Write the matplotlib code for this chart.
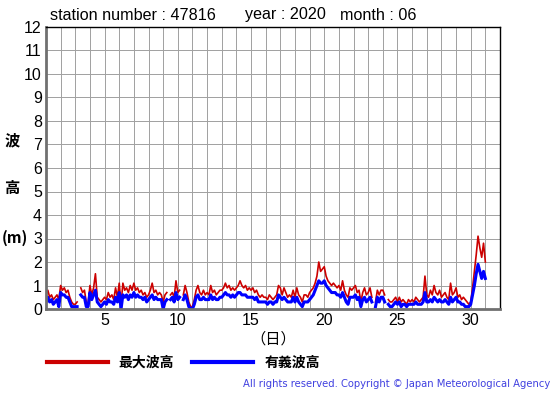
import numpy as np
import matplotlib
matplotlib.use('Agg')
import matplotlib.pyplot as plt
from matplotlib.lines import Line2D

plt.rcParams['font.family'] = ['Liberation Sans', 'Noto Sans CJK JP']
JP = ['Noto Sans CJK JP', 'DejaVu Sans']

nan = np.nan
# 3-hourly wave heights (m), June 2020, station 47816, one row per day
max_wave = [
    [0.6, 0.8, 0.5, 0.6, 0.4, 0.5, 0.6, 0.4],
    [1.0, 0.8, 0.9, 0.7, 0.8, 0.5, 0.3, 0.2],
    [0.2, 0.3, nan, 0.9, 0.7, 0.8, 0.3, 0.2],
    [1.0, 0.6, 0.9, 1.5, 0.5, 0.4, 0.3, 0.4],
    [0.5, 0.4, 0.7, 0.5, 0.6, 0.4, 0.9, 0.5],
    [1.1, 0.2, 1.1, 0.8, 0.9, 0.7, 1.0, 0.8],
    [1.1, 0.8, 0.9, 0.7, 0.8, 0.6, 0.7, 0.5],
    [0.6, 0.8, 1.1, 0.7, 0.8, 0.6, 0.7, 0.6],
    [0.3, 0.6, 0.7, nan, 0.6, 0.7, 0.5, 1.2],
    [0.7, 0.8, nan, 0.6, 1.0, 0.7, 0.3, 0.1],
    [0.1, 0.4, 0.8, 1.0, 0.7, 0.6, 0.8, 0.6],
    [0.7, 0.6, 1.0, 0.7, 0.8, 0.6, 0.7, 0.8],
    [0.8, 0.9, 1.1, 0.9, 1.0, 0.8, 0.9, 0.8],
    [0.9, 1.0, 1.2, 1.0, 0.9, 1.0, 0.8, 0.9],
    [0.8, 0.9, 0.7, 0.8, 0.6, 0.5, 0.6, 0.5],
    [0.5, 0.4, 0.6, 0.5, 0.4, 0.5, 0.6, 1.0],
    [0.9, 0.6, 0.9, 0.7, 0.5, 0.6, 0.5, 0.8],
    [0.5, 0.9, 0.6, 0.5, 0.3, 0.6, 0.6, 0.5],
    [0.7, 0.8, 0.9, 1.1, 1.4, 2.0, 1.6, 1.7],
    [1.8, 1.4, 1.2, 1.1, 1.0, 1.1, 1.0, 0.9],
    [1.0, 0.8, 1.2, 0.8, 0.6, 0.5, 0.9, 0.8],
    [0.9, 1.0, 0.7, 0.8, 0.3, 0.7, 0.9, 0.6],
    [0.7, 0.9, 0.5, nan, 0.3, 0.8, 0.6, 0.8],
    [0.8, 0.6, nan, 0.4, 0.3, 0.3, 0.4, 0.5],
    [0.3, 0.5, 0.3, 0.4, 0.3, 0.2, 0.4, 0.3],
    [0.4, 0.3, 0.5, 0.4, 0.3, 0.4, 0.5, 1.4],
    [0.6, 0.5, 0.8, 0.6, 1.0, 0.7, 0.6, 0.8],
    [0.5, 0.6, 0.7, 0.5, 0.4, 1.1, 0.6, 0.7],
    [0.9, 0.5, 0.6, 0.4, 0.5, 0.4, 0.3, 0.2],
    [0.3, 0.9, 1.6, 2.3, 3.1, 2.6, 2.2, 2.8],
]
sig_wave = [
    [0.3, 0.5, 0.3, 0.4, 0.2, 0.3, 0.4, 0.1],
    [0.7, 0.6, 0.6, 0.5, 0.5, 0.3, 0.1, 0.1],
    [0.1, 0.1, nan, 0.6, 0.5, 0.5, 0.1, 0.1],
    [0.7, 0.4, 0.6, 0.8, 0.3, 0.2, 0.1, 0.2],
    [0.3, 0.2, 0.4, 0.3, 0.3, 0.2, 0.5, 0.3],
    [0.7, 0.0, 0.6, 0.5, 0.6, 0.4, 0.6, 0.5],
    [0.7, 0.5, 0.6, 0.5, 0.5, 0.4, 0.5, 0.3],
    [0.4, 0.5, 0.6, 0.4, 0.5, 0.4, 0.4, 0.4],
    [0.0, 0.3, 0.4, nan, 0.4, 0.5, 0.3, 0.7],
    [0.4, 0.5, nan, 0.4, 0.6, 0.4, 0.1, 0.0],
    [0.0, 0.2, 0.5, 0.6, 0.4, 0.4, 0.5, 0.4],
    [0.4, 0.4, 0.6, 0.4, 0.5, 0.4, 0.4, 0.5],
    [0.5, 0.6, 0.7, 0.6, 0.6, 0.5, 0.6, 0.5],
    [0.6, 0.7, 0.7, 0.6, 0.6, 0.6, 0.5, 0.5],
    [0.5, 0.5, 0.4, 0.5, 0.3, 0.3, 0.3, 0.3],
    [0.3, 0.2, 0.3, 0.3, 0.2, 0.3, 0.3, 0.6],
    [0.5, 0.4, 0.5, 0.4, 0.3, 0.3, 0.3, 0.5],
    [0.3, 0.5, 0.3, 0.2, 0.1, 0.3, 0.3, 0.3],
    [0.4, 0.5, 0.6, 0.8, 1.0, 1.2, 1.1, 1.1],
    [1.2, 1.0, 0.9, 0.8, 0.7, 0.7, 0.7, 0.6],
    [0.6, 0.5, 0.7, 0.5, 0.3, 0.2, 0.5, 0.5],
    [0.5, 0.6, 0.4, 0.5, 0.1, 0.4, 0.5, 0.3],
    [0.4, 0.5, 0.3, nan, 0.1, 0.5, 0.3, 0.5],
    [0.5, 0.3, nan, 0.2, 0.1, 0.1, 0.2, 0.3],
    [0.2, 0.3, 0.1, 0.2, 0.2, 0.1, 0.2, 0.2],
    [0.2, 0.2, 0.3, 0.2, 0.2, 0.2, 0.3, 0.7],
    [0.3, 0.3, 0.4, 0.3, 0.5, 0.4, 0.3, 0.4],
    [0.3, 0.3, 0.4, 0.3, 0.2, 0.5, 0.3, 0.4],
    [0.5, 0.3, 0.3, 0.2, 0.2, 0.1, 0.1, 0.1],
    [0.2, 0.6, 1.0, 1.5, 1.9, 1.6, 1.3, 1.6],
]
last_max = 2.0   # value at day 31 00h
last_sig = 1.3

red = np.append(np.array(max_wave).ravel(), last_max)
blue = np.append(np.array(sig_wave).ravel(), last_sig)
t = 1 + np.arange(len(red)) / 8.0

fig = plt.figure(figsize=(5.55, 3.95), dpi=100)
ax = fig.add_axes([46/555, 1 - 309/395, 454/555, 282/395])

ax.plot(t, red, color='#cc0000', lw=1.2)
ax.plot(t, blue, color='#0000ff', lw=2.2)

ax.set_xlim(1, 32)
ax.set_ylim(0, 12)
ax.set_xticks(range(1, 33))
ax.set_xticklabels([str(d) if d % 5 == 0 else '' for d in range(1, 33)])
ax.set_yticks(range(0, 13))
ax.tick_params(length=0, labelsize=11.5, pad=3)
ax.grid(True, color='#a0a0a0', lw=0.7)
ax.set_axisbelow(True)
for s in ['left', 'bottom']:
    ax.spines[s].set_color('#707070')
    ax.spines[s].set_linewidth(2)
for s in ['top', 'right']:
    ax.spines[s].set_color('black')
    ax.spines[s].set_linewidth(1)

ax.set_xlabel('（日）', family=JP, fontsize=11, labelpad=2)

fig.text(12/555, 1 - 140/395, '波', family=JP, fontsize=11, fontweight='bold', ha='center', va='center')
fig.text(12/555, 1 - 188/395, '高', family=JP, fontsize=11, fontweight='bold', ha='center', va='center')
fig.text(15/555, 1 - 238/395, '(m)', family=JP, fontsize=11, fontweight='bold', ha='center', va='center')

fig.text(50/555, 1 - 15/395, 'station number : 47816', fontsize=11.6, va='center')
fig.text(245/555, 1 - 15/395, 'year : 2020', fontsize=11.6, va='center')
fig.text(340/555, 1 - 15/395, 'month : 06', fontsize=11.6, va='center')

handles = [Line2D([], [], color='#cc0000', lw=3), Line2D([], [], color='#0000ff', lw=3)]
fig.legend(handles, ['最大波高', '有義波高'], loc='center left',
           bbox_to_anchor=(34/555, 1 - 363/395), ncol=2, frameon=False,
           handlelength=4.4, handletextpad=0.8, columnspacing=1.3,
           prop={'family': JP, 'weight': 'bold', 'size': 10})

fig.text(550/555, 1 - 384/395, 'All rights reserved. Copyright © Japan Meteorological Agency',
         family='DejaVu Sans', fontsize=7.2, color='#4040e0', ha='right', va='center')

fig.savefig('out.png', dpi=100)
